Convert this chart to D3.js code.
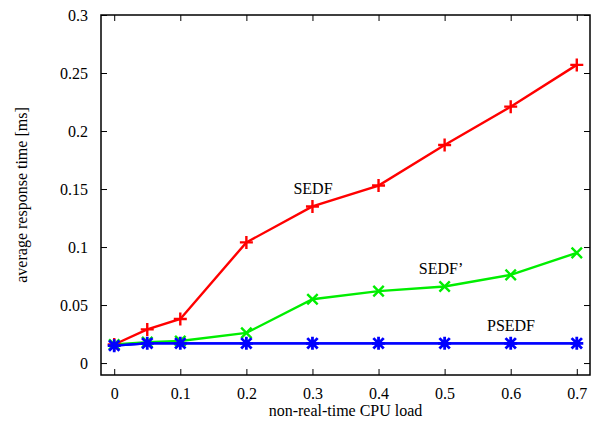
<!DOCTYPE html>
<meta charset="utf-8">
<style>
body { margin: 0; background: white; }
text { font-family: "Liberation Serif", "DejaVu Serif", serif; font-size: 16px; fill: black; }
</style>
<body>
<script src="https://d3js.org/d3.v7.min.js"></script>
<script>
var width = 601,
    height = 425;

// data
var loads = [0, 0.05, 0.1, 0.2, 0.3, 0.4, 0.5, 0.6, 0.7];
var sedf = [0.016, 0.029, 0.038, 0.104, 0.135, 0.153, 0.188, 0.221, 0.257];
var sedfPrime = [0.016, 0.018, 0.019, 0.026, 0.055, 0.062, 0.066, 0.076, 0.095];
var psedf = [0.015, 0.017, 0.017, 0.017, 0.017, 0.017, 0.017, 0.017, 0.017];
var xTicks = [0, 0.1, 0.2, 0.3, 0.4, 0.5, 0.6, 0.7];
var yTicks = [0, 0.05, 0.1, 0.15, 0.2, 0.25, 0.3];

var series = [
  {name: "SEDF", values: sedf, color: "#ff0000", mark: "plus", label: [313, 194]},
  {name: "SEDF\u2019", values: sedfPrime, color: "#00ee00", mark: "cross", label: [441, 274]},
  {name: "PSEDF", values: psedf, color: "#0000ff", mark: "star", label: [511, 331]}
];

var plotLeft = 101, plotRight = 590, plotTop = 15, plotBottom = 375;

var x = d3.scaleLinear().domain([-0.02, 0.72]).range([plotLeft, plotRight]);
var y = d3.scaleLinear().domain([-0.0103, 0.3]).range([plotBottom, plotTop]);

var svg = d3.select("body").append("svg")
    .attr("width", width)
    .attr("height", height);

// axes: ticks inward, mirrored on the opposite sides
function fmt(d) { return d === 0 ? "0" : String(+d.toFixed(2)); }

svg.append("g")
    .attr("transform", "translate(0," + plotBottom + ")")
    .call(d3.axisBottom(x).tickValues(xTicks).tickFormat(fmt).tickSizeInner(-6).tickSizeOuter(0).tickPadding(13));
svg.append("g")
    .attr("transform", "translate(0," + plotTop + ")")
    .call(d3.axisTop(x).tickValues(xTicks).tickFormat("").tickSizeInner(-6).tickSizeOuter(0));
svg.append("g")
    .attr("transform", "translate(" + plotLeft + ",0)")
    .call(d3.axisLeft(y).tickValues(yTicks).tickFormat(fmt).tickSizeInner(-6).tickSizeOuter(0).tickPadding(13));
svg.append("g")
    .attr("transform", "translate(" + plotRight + ",0)")
    .call(d3.axisRight(y).tickValues(yTicks).tickFormat("").tickSizeInner(-6).tickSizeOuter(0));

svg.selectAll(".domain").remove();
svg.selectAll(".tick line").attr("stroke", "black");
svg.selectAll(".tick text").style("font-family", "Liberation Serif").style("font-size", "16px");

svg.append("rect")
    .attr("x", plotLeft).attr("y", plotTop)
    .attr("width", plotRight - plotLeft).attr("height", plotBottom - plotTop)
    .attr("fill", "none").attr("stroke", "black").attr("stroke-width", 1.5);

// lines and point marks
var line = d3.line()
    .x(function(d, i) { return x(loads[i]); })
    .y(function(d) { return y(d); });

var s = 6.5;
function markPath(kind) {
  var p = d3.path();
  if (kind === "plus" || kind === "star") {
    p.moveTo(-s, 0); p.lineTo(s, 0);
    p.moveTo(0, -s); p.lineTo(0, s);
  }
  if (kind === "cross" || kind === "star") {
    var c = s * 0.8;
    p.moveTo(-c, -c); p.lineTo(c, c);
    p.moveTo(-c, c); p.lineTo(c, -c);
  }
  return p.toString();
}

series.forEach(function(ser) {
  svg.append("path")
      .datum(ser.values)
      .attr("d", line)
      .attr("fill", "none")
      .attr("stroke", ser.color)
      .attr("stroke-width", 2.4);
});

series.forEach(function(ser) {
  svg.append("g").selectAll("path")
    .data(ser.values)
    .join("path")
      .attr("transform", function(d, i) { return "translate(" + x(loads[i]) + "," + y(d) + ")"; })
      .attr("d", markPath(ser.mark))
      .attr("fill", "none")
      .attr("stroke", ser.color)
      .attr("stroke-width", ser.mark === "star" ? 2.8 : 2.4);
});

// re-draw the blue line on top, as in the original
svg.append("path")
    .datum(psedf)
    .attr("d", line)
    .attr("fill", "none")
    .attr("stroke", "#0000ff")
    .attr("stroke-width", 2.4);

series.forEach(function(ser) {
  svg.append("text")
      .attr("x", ser.label[0]).attr("y", ser.label[1])
      .attr("text-anchor", "middle")
      .text(ser.name);
});

svg.append("text")
    .attr("x", (plotLeft + plotRight) / 2).attr("y", 416)
    .attr("text-anchor", "middle")
    .text("non-real-time CPU load");

svg.append("text")
    .attr("transform", "translate(27," + ((plotTop + plotBottom) / 2) + ") rotate(-90)")
    .attr("text-anchor", "middle")
    .text("average response time [ms]");
</script>
</body>
